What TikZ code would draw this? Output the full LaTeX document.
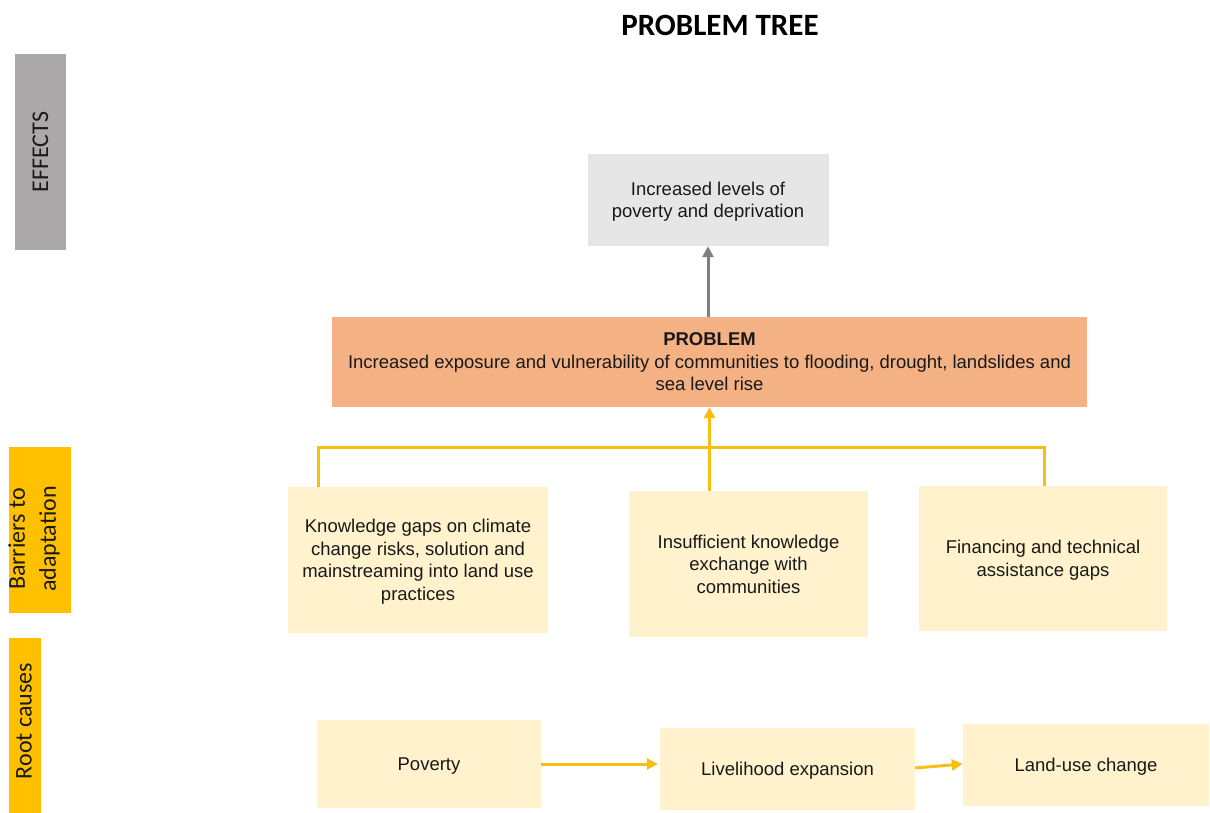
\documentclass[tikz,border=0pt]{standalone}
\usepackage{fontspec}
\setmainfont{Liberation Sans}
\newfontfamily\calib{Carlito}
\usetikzlibrary{arrows.meta}
\definecolor{greybar}{HTML}{AAA8A9}
\definecolor{amberbar}{HTML}{FFC000}
\definecolor{effectfill}{HTML}{E7E6E6}
\definecolor{probfill}{HTML}{F4B183}
\definecolor{creamfill}{HTML}{FFF2CC}
\definecolor{yline}{HTML}{F7BF0F}
\definecolor{garrow}{HTML}{7F7F7F}
\tikzset{
  body/.style={font=\fontsize{18.5}{22.5}\selectfont, align=center, inner sep=0pt, text depth=0pt, text=black!90},
  cbox/.style={body, fill=creamfill},
  sidelab/.style={font=\calib\fontsize{24}{31}\selectfont, align=center, rotate=90, text=black!90},
  yconn/.style={draw=yline, line width=3pt},
  yarrow/.style={yconn, -{Triangle[length=11pt,width=11pt]}},
  garr/.style={draw=garrow, line width=3pt, -{Triangle[length=11pt,width=11pt]}}
}
\begin{document}
\begin{tikzpicture}[x=1pt,y=-1pt]
\useasboundingbox (0,0) rectangle (1210,813);
% title
\node[font=\calib\bfseries\fontsize{31}{33}\selectfont] (title) at (720,25) {PROBLEM TREE};
% side bars
\fill[greybar] (15,54) rectangle (66,250);
\node[sidelab] (leff) at (40.5,152) {EFFECTS};
\fill[amberbar] (9,447) rectangle (71,613);
\node[sidelab] (lbar) at (34,539) {Barriers to\\adaptation};
\fill[amberbar] (9,638) rectangle (41,813);
\node[sidelab] (lroot) at (24,721) {Root causes};
% effect
\node[body, fill=effectfill, minimum width=241pt, minimum height=92pt] (eff) at (708,200) {Increased levels of\\poverty and deprivation};
% problem
\node[body, fill=probfill, minimum width=755pt, minimum height=90pt] (prob) at (709.5,362)
  {\textbf{PROBLEM}\\Increased exposure and vulnerability of communities to flooding, drought, landslides and\\sea level rise};
% barriers
\node[cbox, minimum width=260pt, minimum height=146pt] (b1) at (418,560) {Knowledge gaps on climate\\change risks, solution and\\mainstreaming into land use\\practices};
\node[cbox, minimum width=239pt, minimum height=146pt] (b2) at (748.5,564) {Insufficient knowledge\\exchange with\\communities};
\node[cbox, minimum width=248pt, minimum height=145pt] (b3) at (1043,558.5) {Financing and technical\\assistance gaps};
% root causes
\node[cbox, minimum width=224pt, minimum height=88pt] (r1) at (429,764) {Poverty};
\node[cbox, minimum width=255pt, minimum height=82pt] (r2) at (787.5,769) {Livelihood expansion};
\node[cbox, minimum width=246pt, minimum height=82pt] (r3) at (1086,765) {Land-use change};
% connectors
\draw[garr] (prob.north -| eff.south) -- (eff.south);
\coordinate (hl) at (318,447);
\coordinate (hr) at (1044,447);
\draw[yconn] (b1.north -| hl) -- (hl) -- (hr) -- (b3.north -| hr);
\draw[yarrow] (b2.north -| prob.south) -- (prob.south);
\draw[yarrow] (r1.east) -- ([xshift=-2pt]r1.east -| r2.west);
\draw[yarrow] ([yshift=1pt]r2.east) -- ([yshift=1pt]r3.west);
\end{tikzpicture}
\end{document}
